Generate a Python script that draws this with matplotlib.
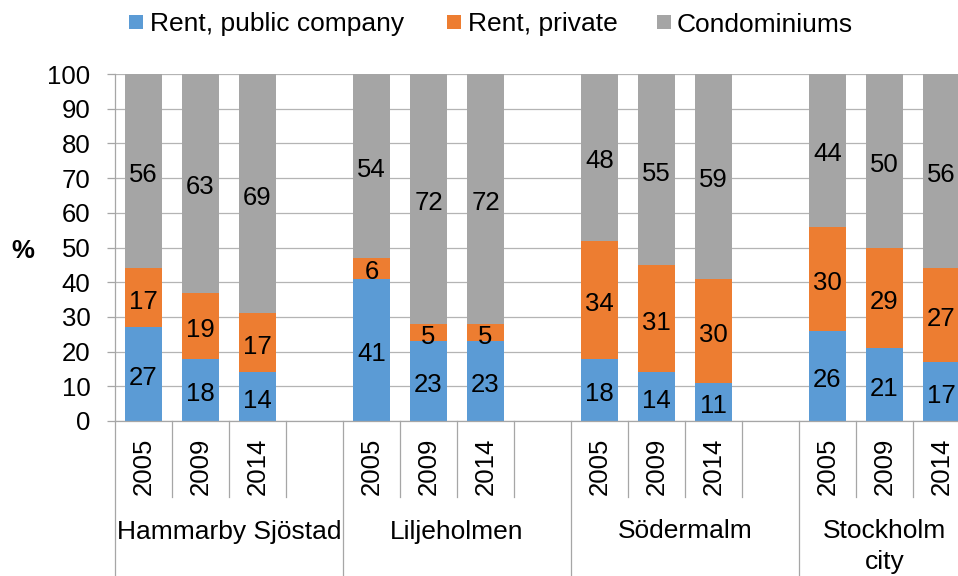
import matplotlib
matplotlib.use("Agg")
import matplotlib.pyplot as plt
from matplotlib.patches import Rectangle

plt.rcParams["font.family"] = ["Liberation Sans", "DejaVu Sans"]

# Housing tenure shares (%) by district and year
districts = ["Hammarby Sjöstad", "Liljeholmen", "Södermalm", "Stockholm\ncity"]
years = ["2005", "2009", "2014"]
rent_public = [27, 18, 14, 41, 23, 23, 18, 14, 11, 26, 21, 17]
rent_private = [17, 19, 17, 6, 5, 5, 34, 31, 30, 30, 29, 27]
condominiums = [56, 63, 69, 54, 72, 72, 48, 55, 59, 44, 50, 56]
series_names = ["Rent, public company", "Rent, private", "Condominiums"]
colors = ["#5B9BD5", "#ED7D31", "#A5A5A5"]

W, H = 958, 576
fig = plt.figure(figsize=(W / 100, H / 100), dpi=100)

# plot area in pixels
x0, x1, ytop, ybot = 115, 970, 74, 421
ax = fig.add_axes([x0 / W, (H - ybot) / H, (x1 - x0) / W, (ybot - ytop) / H])

n_slots = 15
slot_of = []
for g in range(len(districts)):
    for j in range(len(years)):
        slot_of.append(4 * g + j)
xc = [s + 0.5 for s in slot_of]

fs = 18.5
grid_c = "#B4B4B4"
axis_c = "#A6A6A6"

bottom = [0] * len(xc)
for vals, col in zip([rent_public, rent_private, condominiums], colors):
    ax.bar(xc, vals, width=0.66, bottom=bottom, color=col, zorder=2)
    for x, b, v in zip(xc, bottom, vals):
        top = min(b + v, 100)
        mid = (b + top) / 2
        ax.annotate(f"{v}", (x, mid), xytext=(0, -8), textcoords="offset points",
                    ha="center", va="baseline", fontsize=fs, color="black", zorder=3)
    bottom = [b + v for b, v in zip(bottom, vals)]

ax.set_xlim(0, n_slots)
ax.set_ylim(0, 100)
ax.set_yticks(range(0, 101, 10))
ax.yaxis.grid(True, color=grid_c, linewidth=0.9)
ax.set_axisbelow(True)
ax.tick_params(axis="y", length=5.8, width=0.9, color=axis_c, pad=12, labelsize=fs)
ax.set_xticks([])
for s in ["top", "right"]:
    ax.spines[s].set_visible(False)
for s in ["left", "bottom"]:
    ax.spines[s].set_color(axis_c)
    ax.spines[s].set_linewidth(0.9)

# category axis separators and labels
tr = ax.get_xaxis_transform()
hpx = ybot - ytop
for b in range(n_slots + 1):
    if b % 4 == 0 or b == n_slots:
        ax.plot([b, b], [0, -0.6], transform=tr, color=axis_c, lw=0.9, clip_on=False)
    else:
        ax.plot([b, b], [0, -76 / hpx], transform=tr, color=axis_c, lw=0.9, clip_on=False)

for x, s in zip(xc, slot_of):
    ax.text(x, -(438 - ybot) / hpx, years[s % 4], rotation=90, ha="center", va="top",
            transform=tr, fontsize=fs)

group_spans = [(0, 4), (4, 8), (8, 12), (12, 15)]
for name, (a, b) in zip(districts, group_spans):
    for i, line in enumerate(name.split("\n")):
        ax.text((a + b) / 2, -(538.5 + 30 * i - ybot) / hpx, line, ha="center",
                va="baseline", transform=tr, fontsize=19)

# y-axis unit label
fig.text(23 / W, (H - 257.5) / H, "%", ha="center", va="baseline", fontsize=fs,
         fontweight="bold")

# legend
legend_pos = [(129, 150), (447, 468), (657, 677)]
for (sq, tx), name, col in zip(legend_pos, series_names, colors):
    fig.add_artist(Rectangle((sq / W, (H - 29) / H), 14 / W, 14 / H,
                             transform=fig.transFigure, color=col, lw=0))
    fig.text(tx / W, (H - 31.5) / H, name, ha="left", va="baseline", fontsize=19)

fig.savefig("out.png", dpi=100)
